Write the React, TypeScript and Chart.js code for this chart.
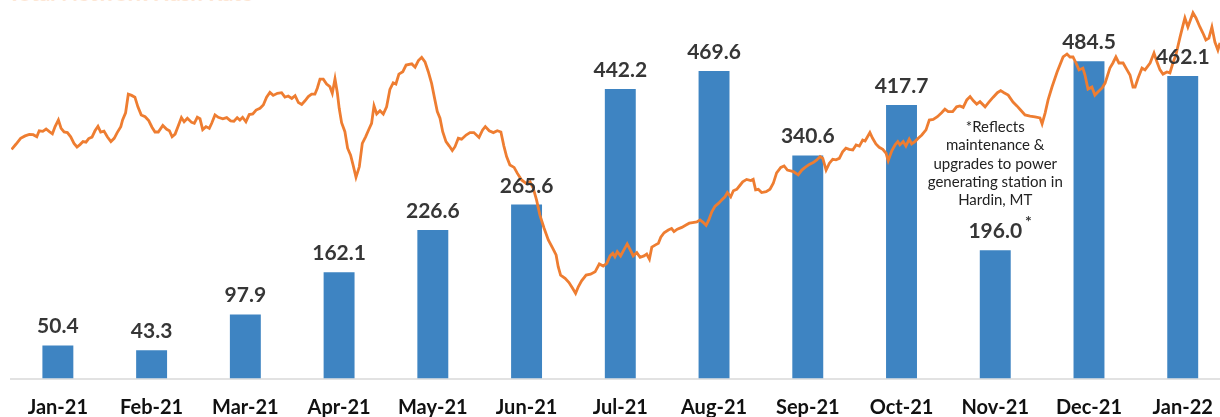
import React, { useEffect, useRef } from 'react';
import { Chart, registerables } from 'chart.js';

Chart.register(...registerables);

// Monthly bitcoin mined (bars)
const months = ['Jan-21', 'Feb-21', 'Mar-21', 'Apr-21', 'May-21', 'Jun-21', 'Jul-21', 'Aug-21', 'Sep-21', 'Oct-21', 'Nov-21', 'Dec-21', 'Jan-22'];
const minedValues = [50.4, 43.3, 97.9, 162.1, 226.6, 265.6, 442.2, 469.6, 340.6, 417.7, 196.0, 484.5, 462.1];

// Footnote on the November bar
const noteIndex = 10;
const noteLines = ['*Reflects', 'maintenance &', 'upgrades to power', 'generating station in', 'Hardin, MT'];

const titleText = 'Total Network Hash Rate';

// Network hash rate (EH/s): [day since 1 Jan 2021, value]
const hashRateSeries: [number, number][] = [
  [0.2,140.2],[1.7,142.0],[3.2,143.9],[4.7,144.7],[6.1,145.2],[7.4,145.1],[8.6,144.4],[9.4,146.4],[10.6,146.2],[11.7,147.0],[12.8,146.1],[13.8,145.4],[14.7,147.8],[15.8,150.0],[16.7,147.2],[17.7,146.0],[18.8,145.8],[19.9,144.4],[21.0,142.2],[22.0,141.0],[23.0,141.8],[24.0,142.8],[25.0,142.6],[25.9,143.8],[27.0,144.3],[28.0,146.4],[29.0,147.9],[29.9,146.0],[31.0,146.3],[32.1,144.4],[33.3,142.8],[34.4,143.9],[35.4,145.8],[36.6,147.8],[37.2,150.0],[38.2,152.4],[39.1,158.6],[40.2,158.2],[41.3,157.6],[42.3,154.4],[43.4,151.7],[44.7,151.1],[45.9,149.8],[47.0,147.6],[48.0,146.0],[49.1,146.0],[50.6,148.2],[51.9,146.9],[52.8,146.4],[53.7,144.4],[54.7,145.3],[55.8,148.2],[56.8,150.8],[57.7,149.4],[58.8,150.6],[60.2,149.2],[61.1,148.9],[62.1,150.9],[63.0,150.4],[63.9,146.8],[65.0,147.8],[66.1,147.2],
  [66.9,148.9],[68.0,151.7],[69.1,150.9],[70.6,150.4],[71.9,150.8],[73.2,149.7],[74.3,149.6],[75.4,150.8],[76.3,150.0],[77.2,150.9],[78.3,149.4],[79.4,151.8],[80.6,152.0],[81.7,153.3],[83.0,153.9],[84.1,155.0],[85.2,157.6],[86.3,159.2],[87.4,158.2],[88.8,158.9],[90.2,159.1],[91.3,157.6],[92.4,158.0],[93.6,157.2],[94.7,158.1],[95.8,155.8],[96.9,155.2],[98.0,156.4],[99.1,157.8],[100.2,158.6],[101.3,158.6],[102.1,160.6],[103.0,163.6],[104.1,163.6],[105.2,162.0],[106.3,161.1],[107.1,158.9],[108.0,163.7],[108.8,158.9],[109.4,153.9],[110.2,149.1],[111.3,146.1],[112.2,140.6],[113.2,138.3],[114.1,134.7],[115.0,130.9],[116.1,134.4],[117.1,142.2],[118.2,144.4],[119.3,146.9],[120.2,148.9],[121.0,154.7],[121.9,152.0],[123.0,153.1],[124.1,152.0],[125.2,154.4],[126.3,160.2],[127.4,162.4],[128.3,162.0],[129.3,165.3],[130.6,166.1],
  [131.7,168.3],[133.6,168.7],[134.7,167.6],[135.8,169.8],[136.9,170.9],[138.0,169.4],[139.1,166.1],[140.2,162.2],[141.3,156.7],[142.1,152.8],[143.0,150.6],[143.9,146.1],[145.0,142.8],[146.1,141.3],[147.1,139.8],[148.0,141.1],[149.1,143.9],[150.2,143.6],[151.7,145.0],[153.0,145.8],[154.3,145.8],[156.0,144.2],[157.2,146.7],[158.1,147.8],[159.4,146.4],[160.8,145.8],[162.1,146.4],[163.3,146.0],[164.3,141.3],[165.2,137.8],[166.3,135.0],[167.7,134.2],[168.8,132.2],[170.2,130.0],[171.7,128.9],[173.0,129.4],[174.1,127.2],[175.2,123.3],[176.3,118.3],[177.7,113.9],[179.1,110.0],[180.6,107.2],[181.7,105.0],[182.4,101.1],[183.2,98.3],[184.7,97.2],[186.0,95.8],[187.2,93.9],[188.2,92.2],[189.1,94.4],[190.2,96.4],[191.7,98.3],[193.2,98.6],[194.7,99.4],[196.1,102.0],
  [197.4,101.3],[198.6,102.2],[199.7,104.7],[200.6,105.6],[201.3,104.4],[202.1,106.1],[203.2,104.7],[204.3,106.7],[205.4,108.7],[206.6,106.4],[207.4,104.7],[208.6,105.8],[209.7,104.2],[211.0,104.7],[211.9,105.3],[212.8,103.6],[213.6,107.6],[214.7,108.3],[215.8,108.9],[216.6,110.9],[217.7,112.4],[219.1,113.3],[220.2,113.8],[221.0,112.8],[222.1,113.6],[223.6,114.2],[225.0,115.0],[226.1,115.6],[227.2,115.8],[228.6,116.0],[229.7,116.7],[230.8,115.8],[231.7,114.9],[232.6,116.7],[233.6,119.4],[234.7,121.3],[235.8,122.2],[236.9,123.3],[238.0,124.4],[238.8,125.8],[239.9,124.4],[240.8,126.4],[241.9,126.9],[242.8,128.0],[243.9,129.4],[245.2,130.2],[246.6,129.8],[247.4,130.2],[248.2,126.7],[249.1,126.9],[250.2,125.8],[251.7,126.1],[253.0,126.9],[254.1,128.9],[255.2,132.4],[256.6,134.2],[257.7,134.7],[258.8,133.3],[260.8,132.8],[262.4,131.7],[263.6,133.3],[264.7,134.2],
  [266.1,135.2],[267.4,135.8],[268.6,136.7],[269.7,137.8],[270.6,137.2],[271.7,133.3],[272.8,135.6],[273.9,136.9],[275.0,136.7],[276.1,137.2],[277.2,139.4],[278.3,140.6],[279.4,140.2],[280.6,140.0],[281.7,141.7],[282.8,141.3],[283.9,143.3],[284.7,143.0],[286.3,145.8],[287.2,143.9],[288.3,142.0],[289.4,140.9],[290.6,140.2],[291.7,138.9],[292.4,136.4],[293.6,139.7],[294.7,141.7],[295.6,142.8],[296.3,141.7],[297.4,142.8],[298.3,141.3],[299.4,143.6],[300.2,142.0],[301.3,142.8],[302.4,143.9],[303.6,145.0],[305.0,146.7],[306.1,150.0],[307.4,150.2],[308.8,151.1],[310.2,152.4],[311.3,153.6],[312.4,152.8],[313.9,152.8],[315.2,154.4],[316.3,154.7],[317.4,154.2],[318.6,156.7],[319.7,157.8],[320.8,156.4],[321.9,155.3],[323.0,156.1],[324.7,154.4],[326.1,156.1],[327.4,157.6],[328.8,159.1],[329.9,159.8],[331.0,159.1],[332.4,158.3],
  [334.0,156.0],[335.3,154.7],[336.3,153.6],[338.0,151.7],[339.7,151.3],[341.3,151.0],[343.0,150.7],[343.7,148.7],[344.7,152.3],[345.7,156.7],[347.0,161.0],[348.7,166.0],[350.7,171.0],[352.0,172.0],[353.0,171.0],[354.0,171.0],[355.0,169.0],[356.0,166.7],[357.3,167.3],[358.0,165.0],[359.0,160.3],[360.3,161.0],[361.3,158.3],[362.3,159.3],[363.7,160.7],[364.7,162.3],[366.3,167.3],[367.3,169.0],[368.3,171.0],[369.3,169.0],[370.7,169.0],[372.0,166.7],[373.0,165.0],[374.0,161.0],[374.7,161.0],[375.7,164.0],[377.0,167.3],[378.0,166.7],[379.7,169.0],[381.0,172.3],[382.0,169.3],[383.0,166.7],[384.0,165.3],[385.3,166.0],[386.3,165.7],[387.3,169.0],[388.3,171.7],[389.7,177.7],[390.7,181.7],[391.3,184.0],[392.3,181.0],[394.0,185.7],[395.0,184.0],[396.3,181.0],[397.3,179.0],[398.3,176.7],[399.3,177.3],[400.3,181.0],[401.3,176.0],[402.3,173.3],[403.0,175.7],
];

const BAR_COLOR = '#3E84C2';
const LINE_COLOR = '#EE7D31';

export default function App() {
  const canvasRef = useRef<HTMLCanvasElement>(null);

  useEffect(() => {
    const canvas = canvasRef.current;
    if (!canvas) return;

    const labelPlugin = {
      id: 'barValueLabels',
      afterDatasetsDraw(chart: any) {
        const ctx = chart.ctx;
        const meta = chart.getDatasetMeta(0);
        ctx.save();
        meta.data.forEach((el: any, i: number) => {
          const text = minedValues[i].toFixed(1);
          ctx.font = 'bold 21px Lato';
          ctx.fillStyle = '#363636';
          ctx.textAlign = 'center';
          ctx.textBaseline = 'alphabetic';
          const y = el.y - 12;
          ctx.fillText(text, el.x, y);
          if (i === noteIndex) {
            const w = ctx.measureText(text).width;
            ctx.font = 'bold 16px Lato';
            ctx.textAlign = 'left';
            ctx.fillText('*', el.x + w / 2 + 3, y - 11);
            ctx.font = '15px Lato';
            ctx.fillStyle = '#222222';
            ctx.textAlign = 'center';
            ctx.textBaseline = 'middle';
            const n = noteLines.length;
            noteLines.forEach((line, k) => {
              ctx.fillText(line, el.x, el.y - 50 - (n - 1 - k) * 18.2);
            });
          }
        });
        ctx.restore();
      },
    };

    const chart = new Chart(canvas, {
      type: 'bar',
      data: {
        labels: months,
        datasets: [
          {
            type: 'bar',
            label: 'Bitcoin mined',
            data: minedValues,
            backgroundColor: BAR_COLOR,
            barPercentage: 0.33,
            categoryPercentage: 1.0,
            grouped: false,
            xAxisID: 'x',
            yAxisID: 'y',
            order: 1,
          } as any,
          {
            type: 'line',
            label: 'Network hash rate',
            data: hashRateSeries.map(([d, v]) => ({ x: d, y: v })),
            borderColor: LINE_COLOR,
            borderWidth: 2.8,
            pointRadius: 0,
            tension: 0,
            fill: false,
            xAxisID: 'x2',
            yAxisID: 'y2',
            order: 0,
          } as any,
        ],
      },
      options: {
        responsive: false,
        animation: false,
        devicePixelRatio: 1,
        layout: { padding: { left: 11, right: 10.4, top: 0, bottom: 0 } },
        plugins: {
          legend: { display: false },
          tooltip: { enabled: false },
          title: { display: false },
        },
        scales: {
          x: {
            type: 'category',
            offset: true,
            grid: { display: false, drawTicks: false },
            border: { display: true, color: '#e2e2e2', width: 2 },
            ticks: {
              color: '#111111',
              font: { family: 'Lato', weight: 'bold', size: 20 },
              padding: 17,
              maxRotation: 0,
              autoSkip: false,
            },
            afterFit: (scale: any) => {
              scale.height = 38.5;
            },
          },
          y: { display: false, min: 0, max: 578 },
          x2: { type: 'linear', display: false, offset: false, min: 0, max: 406.2, grid: { offset: false } },
          y2: { type: 'linear', display: false, offset: false, min: 63.83, max: 190 },
        } as any,
      },
      plugins: [labelPlugin],
    });

    return () => chart.destroy();
  }, []);

  return (
    <div style={{ position: 'fixed', left: 0, top: 0, width: 1220, height: 417, overflow: 'hidden', background: '#ffffff' }}>
      <div style={{ position: 'absolute', left: 8, top: -18, fontFamily: 'Lato', fontWeight: 'bold', fontSize: 22, lineHeight: '22px', color: '#fde6d4', whiteSpace: 'nowrap' }}>
        {titleText}
      </div>
      <canvas ref={canvasRef} width={1240} height={417} style={{ position: 'absolute', left: 0, top: 0, width: 1240, height: 417 }} />
    </div>
  );
}
